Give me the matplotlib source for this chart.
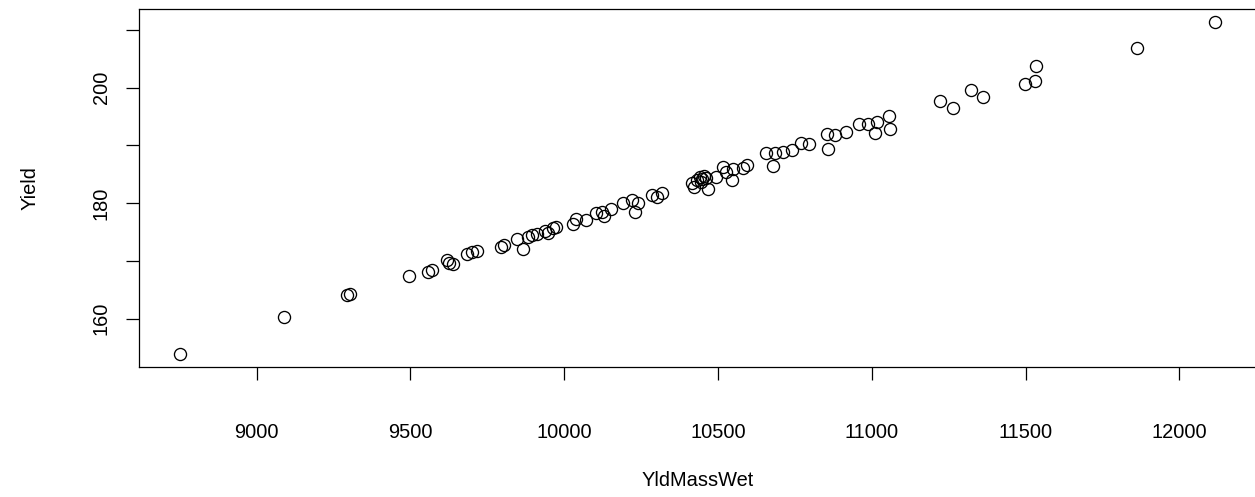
import matplotlib
matplotlib.use("Agg")
import matplotlib.pyplot as plt

plt.rcParams['font.family'] = ['Liberation Sans', 'DejaVu Sans']

# Data
yld_mass_wet = [8751, 9089, 9294, 9303, 9495, 9557, 9570, 9618, 9626, 9639,
                9684, 9700, 9716, 9794, 9806, 9846, 9865, 9882, 9894, 9913,
                9938, 9948, 9965, 9973, 10029, 10038, 10071, 10103, 10122, 10128,
                10151, 10190, 10220, 10241, 10230, 10287, 10302, 10318,
                10415, 10422, 10432, 10442, 10448, 10455, 10461, 10445,
                10469, 10495, 10517, 10525, 10549, 10546, 10582, 10594,
                10656, 10685, 10680, 10712, 10741, 10770, 10795,
                10855, 10881, 10859, 10915, 10959, 10989, 11017, 11055, 11012, 11060,
                11221, 11263, 11323, 11363, 11498, 11531, 11534, 11862, 12116]
yield_vals = [153.9, 160.2, 164.0, 164.2, 167.3, 168.0, 168.4, 170.2, 169.6, 169.5,
              171.2, 171.5, 171.7, 172.4, 172.8, 173.7, 172.0, 174.1, 174.5, 174.6,
              175.1, 174.8, 175.6, 175.9, 176.4, 177.3, 177.0, 178.2, 178.5, 177.8,
              179.0, 180.0, 180.5, 180.0, 178.5, 181.4, 181.0, 181.8,
              183.4, 182.8, 184.0, 184.5, 184.1, 184.7, 184.3, 183.6,
              182.5, 184.5, 186.3, 185.3, 185.9, 183.9, 186.0, 186.6,
              188.7, 188.6, 186.4, 188.8, 189.1, 190.4, 190.2,
              191.9, 191.8, 189.3, 192.3, 193.6, 193.7, 194.1, 195.0, 192.1, 192.9,
              197.7, 196.4, 199.5, 198.3, 200.6, 201.1, 203.8, 206.8, 211.3]

x_ticks = [9000, 9500, 10000, 10500, 11000, 11500, 12000]
y_ticks = [160, 170, 180, 190, 200, 210]
y_tick_labels = ["160", "", "180", "", "200", ""]

W, H = 1255, 497
fig = plt.figure(figsize=(W / 100, H / 100), dpi=100)
left_px, right_px, top_px, bottom_px = 138.6, 1256.4, 9, 367
ax = fig.add_axes([left_px / W, 1 - bottom_px / H,
                   (right_px - left_px) / W, (bottom_px - top_px) / H])

ax.plot(yld_mass_wet, yield_vals, linestyle='none', marker='o',
        markersize=8.7, markerfacecolor='none', markeredgecolor='black',
        markeredgewidth=0.95)

xmin, xmax = min(yld_mass_wet), max(yld_mass_wet)
ymin, ymax = min(yield_vals), max(yield_vals)
xr, yr = xmax - xmin, ymax - ymin
ax.set_xlim(xmin - 0.04 * xr, xmax + 0.04 * xr)
ax.set_ylim(ymin - 0.04 * yr, ymax + 0.04 * yr)

ax.set_xticks(x_ticks)
ax.set_xticklabels([str(t) for t in x_ticks])
ax.set_yticks(y_ticks)
ax.set_yticklabels(y_tick_labels, rotation=90, va='center')

ax.tick_params(direction='out', length=9.4, width=0.9, labelsize=14.4,
               colors='black')
ax.tick_params(axis='x', pad=31)
ax.tick_params(axis='y', pad=10.5)
for s in ax.spines.values():
    s.set_linewidth(0.9)

fig.text(697.5 / W, 1 - 480 / H, "YldMassWet", ha='center', va='center', fontsize=14.4)
fig.text(30 / W, 1 - 188 / H, "Yield", ha='center', va='center', rotation=90, fontsize=14.4)

fig.savefig("out.png", dpi=100, facecolor='white')
